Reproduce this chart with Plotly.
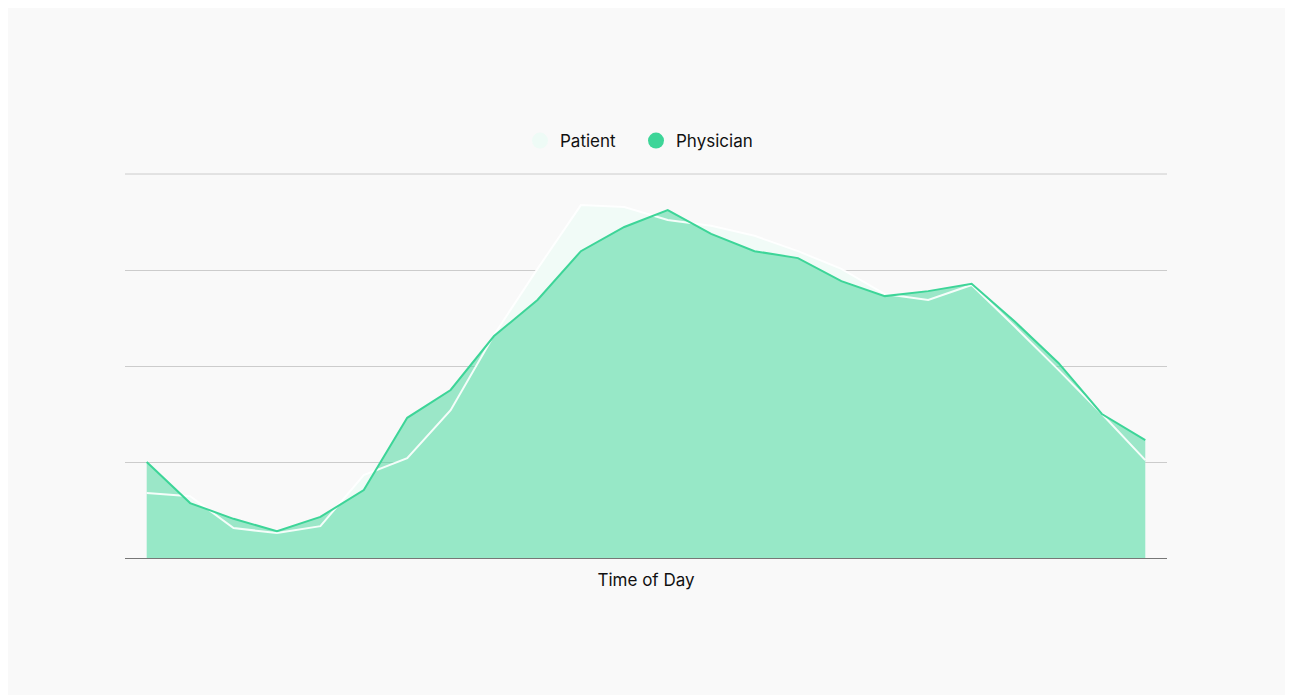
import plotly.graph_objects as go

hours = list(range(24))
patient = [16.9, 16.1, 7.8, 6.5, 8.3, 21.6, 26.0, 38.5, 58.1, 75.3, 91.9, 91.4,
           88.0, 86.5, 83.9, 79.9, 75.3, 68.75, 67.2, 71.1, 60.2, 49.0, 37.5, 25.5]
physician = [25.0, 14.3, 10.2, 7.0, 10.7, 17.7, 36.5, 43.75, 57.8, 67.2, 79.9, 86.2,
             90.6, 84.4, 79.9, 78.1, 72.1, 68.2, 69.5, 71.4, 61.5, 50.8, 37.5, 30.7]
series_names = ["Patient", "Physician"]

GREEN = "#3dd598"
FONT = "Inter, Roboto, sans-serif"

fig = go.Figure()
# filled areas
fig.add_trace(go.Scatter(
    x=hours, y=patient, mode="lines", fill="tozeroy",
    fillcolor="#f1fbf7", line=dict(color="rgba(0,0,0,0)", width=0),
    showlegend=False, hoverinfo="skip"))
fig.add_trace(go.Scatter(
    x=hours, y=physician, mode="lines", fill="tozeroy",
    fillcolor="rgba(61,213,152,0.5)", line=dict(color="rgba(0,0,0,0)", width=0),
    showlegend=False, hoverinfo="skip"))
# lines
fig.add_trace(go.Scatter(
    x=hours, y=patient, mode="lines", line=dict(color="rgba(255,255,255,0.9)", width=2),
    showlegend=False, hoverinfo="skip"))
fig.add_trace(go.Scatter(
    x=hours, y=physician, mode="lines", line=dict(color=GREEN, width=2),
    showlegend=False, hoverinfo="skip"))
# legend entries
fig.add_trace(go.Scatter(x=[None], y=[None], mode="markers", name=series_names[0],
                         marker=dict(color="#eefbf6", size=16)))
fig.add_trace(go.Scatter(x=[None], y=[None], mode="markers", name=series_names[1],
                         marker=dict(color=GREEN, size=16)))

W, H = 1291, 695
L, R, T, B = 125, 124, 174, 137
pw, ph = W - L - R, H - T - B

fig.add_shape(type="rect", xref="paper", yref="paper", layer="below",
              x0=(8 - L) / pw, x1=(1285 - L) / pw,
              y0=-(H + 5 - (H - B)) / ph, y1=((H - B) - 8) / ph,
              fillcolor="#f9f9f9", line=dict(width=0))
# top gridline at range edge
fig.add_shape(type="line", xref="paper", yref="paper", layer="below",
              x0=0, x1=1, y0=1, y1=1, line=dict(color="#cccccc", width=1))

fig.update_layout(
    width=W, height=H,
    margin=dict(l=L, r=R, t=T, b=B),
    paper_bgcolor="white", plot_bgcolor="rgba(0,0,0,0)",
    font=dict(family=FONT, size=17, color="#111"),
    legend=dict(orientation="h", x=0.5 - 10 / pw, xanchor="center", y=1.0 + 33 / ph,
                yanchor="middle", font=dict(size=17, family=FONT),
                itemsizing="trace", bgcolor="rgba(0,0,0,0)",
                entrywidth=71, entrywidthmode="pixels"),
    xaxis=dict(range=[-0.5, 23.5], showgrid=False, showticklabels=False,
               zeroline=False, showline=False, ticks="",
               title=dict(text="Time of Day", font=dict(size=17, family=FONT), standoff=16)),
    yaxis=dict(range=[0, 100], dtick=25, showgrid=True, gridcolor="#cccccc",
               gridwidth=1, showticklabels=False, zeroline=True,
               zerolinecolor="#777777", zerolinewidth=1, ticks=""),
)

fig.write_html("out.html")
